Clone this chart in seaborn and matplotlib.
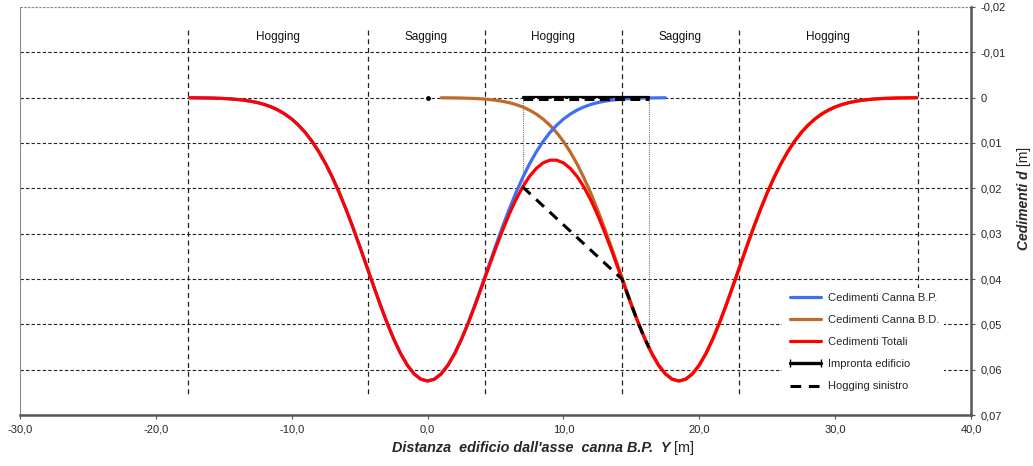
import numpy as np
import pandas as pd
import matplotlib
matplotlib.use("Agg")
import matplotlib.pyplot as plt
from matplotlib.lines import Line2D
import seaborn as sns

# ---------------- data ----------------
x_bp = np.arange(-17.5, 17.51, 0.5)
settle_bp = [0.00002, 0.00004, 0.00006, 0.00008, 0.00013, 0.00019, 0.00027, 0.00040, 0.00056,
             0.00080, 0.00110, 0.00152, 0.00205, 0.00275, 0.00363, 0.00472, 0.00608, 0.00771,
             0.00967, 0.01197, 0.01462, 0.01763, 0.02099, 0.02466, 0.02861, 0.03277, 0.03705,
             0.04134, 0.04555, 0.04954, 0.05318, 0.05637, 0.05897, 0.06091, 0.06210, 0.06250,
             0.06210, 0.06091, 0.05897, 0.05637, 0.05318, 0.04954, 0.04555, 0.04134, 0.03705,
             0.03277, 0.02861, 0.02466, 0.02099, 0.01763, 0.01462, 0.01197, 0.00967, 0.00771,
             0.00608, 0.00472, 0.00363, 0.00275, 0.00205, 0.00152, 0.00110, 0.00080, 0.00056,
             0.00040, 0.00027, 0.00019, 0.00013, 0.00008, 0.00006, 0.00004, 0.00002]

x_bd = np.arange(1.0, 36.01, 0.5)
settle_bd = [0.00002, 0.00004, 0.00006, 0.00008, 0.00013, 0.00019, 0.00027, 0.00040, 0.00056,
             0.00080, 0.00110, 0.00152, 0.00205, 0.00275, 0.00363, 0.00472, 0.00608, 0.00771,
             0.00967, 0.01197, 0.01462, 0.01763, 0.02099, 0.02466, 0.02861, 0.03277, 0.03705,
             0.04134, 0.04555, 0.04954, 0.05318, 0.05637, 0.05897, 0.06091, 0.06210, 0.06250,
             0.06210, 0.06091, 0.05897, 0.05637, 0.05318, 0.04954, 0.04555, 0.04134, 0.03705,
             0.03277, 0.02861, 0.02466, 0.02099, 0.01763, 0.01462, 0.01197, 0.00967, 0.00771,
             0.00608, 0.00472, 0.00363, 0.00275, 0.00205, 0.00152, 0.00110, 0.00080, 0.00056,
             0.00040, 0.00027, 0.00019, 0.00013, 0.00008, 0.00006, 0.00004, 0.00002]

x_tot = np.arange(-17.5, 36.01, 0.5)
settle_tot = [0.00002, 0.00004, 0.00006, 0.00008, 0.00013, 0.00019, 0.00027, 0.00040, 0.00056,
              0.00080, 0.00110, 0.00152, 0.00205, 0.00275, 0.00363, 0.00472, 0.00608, 0.00771,
              0.00967, 0.01197, 0.01462, 0.01763, 0.02099, 0.02466, 0.02861, 0.03277, 0.03705,
              0.04134, 0.04555, 0.04954, 0.05318, 0.05637, 0.05897, 0.06091, 0.06210, 0.06250,
              0.06210, 0.06093, 0.05901, 0.05643, 0.05326, 0.04967, 0.04574, 0.04161, 0.03745,
              0.03333, 0.02941, 0.02576, 0.02251, 0.01968, 0.01737, 0.01560, 0.01439, 0.01379,
              0.01379, 0.01439, 0.01560, 0.01737, 0.01968, 0.02251, 0.02576, 0.02941, 0.03333,
              0.03745, 0.04161, 0.04574, 0.04967, 0.05326, 0.05643, 0.05901, 0.06093, 0.06210,
              0.06250,
              0.06210, 0.06091, 0.05897, 0.05637, 0.05318, 0.04954, 0.04555, 0.04134, 0.03705,
              0.03277, 0.02861, 0.02466, 0.02099, 0.01763, 0.01462, 0.01197, 0.00967, 0.00771,
              0.00608, 0.00472, 0.00363, 0.00275, 0.00205, 0.00152, 0.00110, 0.00080, 0.00056,
              0.00040, 0.00027, 0.00019, 0.00013, 0.00008, 0.00006, 0.00004, 0.00002]

building_x = [7.0, 16.3]
building_y = [0.0, 0.0]
building_corner_y = [0.0197, 0.0552]
hog_x = [7.0, 14.3, 14.5, 15.0, 15.5, 16.0, 16.3]
hog_y = [0.0197, 0.0400, 0.0416, 0.0457, 0.0497, 0.0533, 0.0552]
origin_x = [0.0]
origin_y = [0.0]

zone_bounds = [-17.6, -4.4, 4.2, 14.3, 22.9, 36.1]
zone_labels = ["Hogging", "Sagging", "Hogging", "Sagging", "Hogging"]

xticks = [-30, -20, -10, 0, 10, 20, 30, 40]
xtick_labels = ["-30,0", "-20,0", "-10,0", "0,0", "10,0", "20,0", "30,0", "40,0"]
yticks = [-0.02, -0.01, 0.0, 0.01, 0.02, 0.03, 0.04, 0.05, 0.06, 0.07]
ytick_labels = ["-0,02", "-0,01", "0", "0,01", "0,02", "0,03", "0,04", "0,05", "0,06", "0,07"]

series_names = ["Cedimenti Canna B.P.", "Cedimenti Canna B.D.", "Cedimenti Totali",
                "Impronta edificio", "Hogging sinistro"]
C_BP = "#3f6ff2"
C_BD = "#bf6a2c"
C_TOT = "#ff0000"

# ---------------- style ----------------
sns.set_theme(style="white")
plt.rcParams["font.family"] = ["Liberation Sans", "DejaVu Sans"]

fig = plt.figure(figsize=(10.33, 4.66), dpi=100)
ax = fig.add_axes([0.0194, 0.1094, 0.9206, 0.8756])
ax.set_xlim(xticks[0], xticks[-1])
ax.set_ylim(yticks[-1], yticks[0])

# grid lines
ax.hlines(yticks[1:-1], xticks[0], xticks[-1], colors="#222222", linewidth=0.8,
          linestyles=(0, (3, 2)), zorder=1)
ax.hlines([yticks[0]], xticks[0], xticks[-1], colors="#888888", linewidth=0.9,
          linestyles=(0, (2, 1)), zorder=1)

# zone boundaries and labels
ax.vlines(zone_bounds, -0.015, 0.0657, colors="#222222", linewidth=0.9,
          linestyles=(0, (4, 3)), zorder=1)
for i, lab in enumerate(zone_labels):
    ax.text((zone_bounds[i] + zone_bounds[i + 1]) / 2, -0.0134, lab,
            ha="center", va="center", fontsize=8.5, color="#111111")

# building corner projections
ax.vlines(building_x, building_y, building_corner_y, colors="#777777", linewidth=0.8,
          linestyles=(0, (1, 1)), zorder=2)

# curves
df_bp = pd.DataFrame({"x": x_bp, "y": settle_bp})
df_bd = pd.DataFrame({"x": x_bd, "y": settle_bd})
df_tot = pd.DataFrame({"x": x_tot, "y": settle_tot})
sns.lineplot(data=df_bd, x="x", y="y", ax=ax, color=C_BD, linewidth=2.3, zorder=3, legend=False)
sns.lineplot(data=df_bp, x="x", y="y", ax=ax, color=C_BP, linewidth=2.3, zorder=4, legend=False)
sns.lineplot(data=df_tot, x="x", y="y", ax=ax, color=C_TOT, linewidth=2.3, zorder=5, legend=False)

# building footprint
sns.lineplot(x=building_x, y=[v - 0.0002 for v in building_y], ax=ax, color="black",
             linewidth=1.6, zorder=6, legend=False)
sns.lineplot(x=building_x, y=[v + 0.0002 for v in building_y], ax=ax, color="black",
             linewidth=2.2, zorder=6, legend=False)
ax.lines[-1].set_dashes((3.2, 1.8))
# hogging line
sns.lineplot(x=hog_x, y=hog_y, ax=ax, color="black", linewidth=2.2, zorder=7,
             legend=False, sort=False, estimator=None)
ax.lines[-1].set_dashes((3.5, 2.5))
ax.plot(origin_x, origin_y, "o", color="black", markersize=2.5, zorder=7)

# axes styling
ax.set_xlabel("")
ax.set_ylabel("")
ax.set_xticks(xticks)
ax.set_xticklabels(xtick_labels)
ax.yaxis.tick_right()
ax.set_yticks(yticks)
ax.set_yticklabels(ytick_labels)
ax.tick_params(axis="x", direction="out", length=3, width=0.8, labelsize=8, pad=4,
               color="#555555", bottom=True)
ax.tick_params(axis="y", direction="out", length=3, width=0.8, labelsize=8, pad=4,
               color="#555555", right=True, left=False)
ax.spines["top"].set_visible(False)
ax.spines["left"].set_color("#8a8a8a")
ax.spines["left"].set_linewidth(0.8)
for s in ("bottom", "right"):
    ax.spines[s].set_color("#555555")
    ax.spines[s].set_linewidth(1.8)

# axis titles
tx = fig.text(392 / 1033, 1 - 448 / 466, "Distanza  edificio dall'asse  canna B.P.  Y",
              fontsize=10.4, fontweight="bold", fontstyle="italic", ha="left", va="center")
ax.annotate(" [m]", xy=(1.0, 0.5), xycoords=tx, ha="left", va="center", fontsize=10.4)
ty = fig.text(1024 / 1033, 1 - 250 / 466, "Cedimenti d", rotation=90,
              fontsize=10, fontweight="bold", fontstyle="italic", ha="center", va="bottom")
ax.annotate(" [m]", xy=(0.5, 1.0), xycoords=ty, ha="center", va="bottom", fontsize=10,
            rotation=90)

# legend
handles = [
    Line2D([], [], color=C_BP, linewidth=2.3),
    Line2D([], [], color=C_BD, linewidth=2.3),
    Line2D([], [], color=C_TOT, linewidth=2.3),
    Line2D([], [], color="black", linewidth=2.4, marker="|", markersize=6),
    Line2D([], [], color="black", linewidth=2.2, dashes=(3.5, 2.5)),
]
leg = ax.legend(handles, series_names, loc="upper left", bbox_to_anchor=(0.795, 0.326),
                fontsize=8, labelspacing=1.1, handlelength=3.4, handletextpad=0.3,
                borderpad=0.45, frameon=True, facecolor="white", edgecolor="none",
                framealpha=1.0, numpoints=2)
leg.set_zorder(10)

fig.savefig("out.png", dpi=100)
